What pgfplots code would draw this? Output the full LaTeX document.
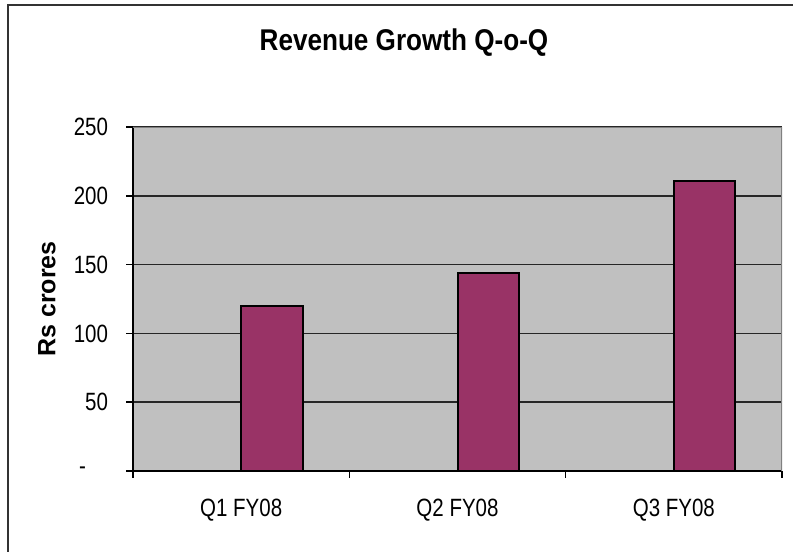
\documentclass[border=0pt]{standalone}
\usepackage{fontspec}
\setmainfont[FakeStretch=0.82]{Liberation Sans}
\newfontfamily\titlefont[FakeStretch=0.87]{Liberation Sans}
\newfontfamily\labelfont{Liberation Sans}
\usepackage{pgfplots}
\pgfplotsset{compat=1.18}

\definecolor{plotgray}{HTML}{C0C0C0}
\definecolor{framegray}{HTML}{808080}
\definecolor{barplum}{HTML}{993366}

\begin{document}
\begin{tikzpicture}
\useasboundingbox (0,0) rectangle (396.5bp,276bp);
% outer chart border (left and top only visible)
\draw[line width=1bp, black!80] (4bp,0) -- (4bp,273.5bp) -- (396.5bp,273.5bp);

\begin{axis}[
    at={(66.5bp,40.5bp)}, anchor=south west,
    scale only axis, width=324.5bp, height=172bp,
    xmin=-0.5, xmax=2.5, ymin=0, ymax=250,
    axis lines=left,
    axis line style={-, line width=0.8bp, black},
    axis background/.style={fill=plotgray},
    tick align=outside,
    major tick length=3.5bp,
    tick style={black, line width=0.8bp},
    xtick={-0.5,0.5,1.5,2.5}, xticklabels={},
    extra x ticks={0,1,2},
    extra x tick labels={Q1 FY08,Q2 FY08,Q3 FY08},
    extra x tick style={major tick length=0pt},
    ytick={0,50,100,150,200,250},
    yticklabels={-\hspace*{11bp},50,100,150,200,250},
    ymajorgrids,
    grid style={black!85, line width=0.8bp},
    ticklabel style={font=\fontsize{12.5bp}{15bp}\selectfont},
    xticklabel style={anchor=base, yshift=-23bp},
    yticklabel style={anchor=east, xshift=-5.5bp},
]
\addplot[ybar, bar width=0.285, bar shift=0.1425, fill=barplum, draw=black, line width=1bp]
    coordinates {(0,120) (1,144) (2,211)};
\draw[framegray, line width=1bp] (rel axis cs:0,1) -- (rel axis cs:1,1) -- (rel axis cs:1,0);
\end{axis}

\node[anchor=base, font=\titlefont\bfseries\fontsize{15bp}{18bp}\selectfont]
    at (202bp,250.5bp) {Revenue Growth Q-o-Q};
\node[rotate=90, font=\labelfont\bfseries\fontsize{12.5bp}{15bp}\selectfont]
    at (23.5bp,126.5bp) {Rs crores};
\end{tikzpicture}
\end{document}
